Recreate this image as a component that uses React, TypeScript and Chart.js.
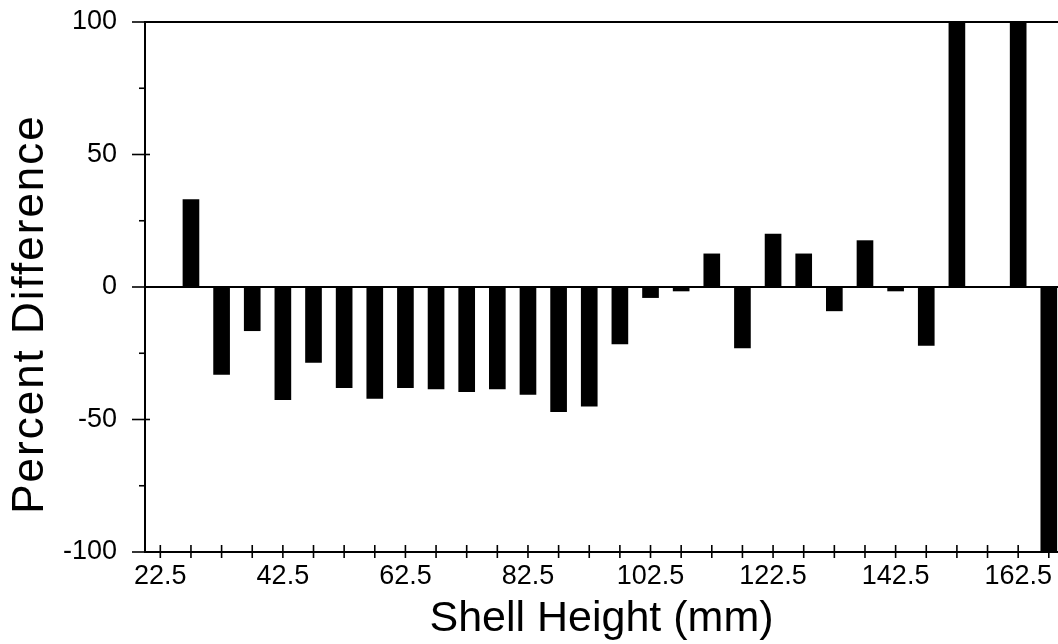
import React, { useEffect, useRef } from "react";
import { Chart, registerables } from "chart.js";

Chart.register(...registerables);

// Bin centres (mm) and percent differences
const shellHeights: number[] = [
  27.5, 32.5, 37.5, 42.5, 47.5, 52.5, 57.5, 62.5, 67.5, 72.5, 77.5, 82.5, 87.5, 92.5, 97.5,
  102.5, 107.5, 112.5, 117.5, 122.5, 127.5, 132.5, 137.5, 142.5, 147.5, 152.5, 157.5, 162.5, 167.5,
];
const percentDifference: (number | null)[] = [
  33, -33, -16.5, -42.5, -28.5, -38, -42, -38, -38.5, -39.5, -38.5, -40.5, -47, -45, -21.5,
  -4, -1.5, 12.5, -23, 20, 12.5, -9, 17.5, -1.5, -22, 100, null, 100, -100,
];
const xTickValues: number[] = [
  22.5, 27.5, 32.5, 37.5, 42.5, 47.5, 52.5, 57.5, 62.5, 67.5, 72.5, 77.5, 82.5, 87.5, 92.5,
  97.5, 102.5, 107.5, 112.5, 117.5, 122.5, 127.5, 132.5, 137.5, 142.5, 147.5, 152.5, 157.5,
  162.5, 167.5,
];
const xTickLabels: string[] = ["22.5", "42.5", "62.5", "82.5", "102.5", "122.5", "142.5", "162.5"];
const yTickLabels: string[] = ["100", "50", "0", "-50", "-100"];
const xTitle = "Shell Height (mm)";
const yTitle = "Percent Difference";
const X_MIN = 20;
const X_MAX = 169;

const FONT = '"Liberation Sans", Arial, Helvetica, sans-serif';

const framePlugin = {
  id: "frameTicks",
  afterDraw(chart: any) {
    const ctx = chart.ctx as CanvasRenderingContext2D;
    const xs = chart.scales.x;
    const ys = chart.scales.y;
    const left = chart.chartArea.left;
    const bottom = chart.chartArea.bottom;
    ctx.save();
    ctx.strokeStyle = "#000";
    ctx.lineWidth = 1.6;
    // y ticks (major every 50, minor every 25)
    for (let v = -100; v <= 100; v += 25) {
      const y = ys.getPixelForValue(v);
      const major = v % 50 === 0;
      ctx.beginPath();
      ctx.moveTo(left - (major ? 13 : 6), y);
      ctx.lineTo(left + (major ? 5 : 1), y);
      ctx.stroke();
    }
    // x ticks
    for (const v of xTickValues) {
      const x = xs.getPixelForValue(v);
      ctx.beginPath();
      ctx.moveTo(x, bottom - 7);
      ctx.lineTo(x, bottom + 6);
      ctx.stroke();
    }
    // y title
    ctx.fillStyle = "#000";
    ctx.font = `44px ${FONT}`;
    try {
      (ctx as any).letterSpacing = "2px";
    } catch (e) {}
    ctx.translate(43, 314);
    ctx.rotate(-Math.PI / 2);
    ctx.textAlign = "center";
    ctx.textBaseline = "alphabetic";
    ctx.fillText(yTitle, 0, 0);
    ctx.restore();
  },
};

export default function App() {
  const ref = useRef<HTMLCanvasElement | null>(null);

  useEffect(() => {
    if (!ref.current) return;
    const data = shellHeights.map((x, i) => ({ x, y: percentDifference[i] }));
    const chart = new Chart(ref.current, {
      type: "bar",
      data: {
        datasets: [
          {
            data: data as any,
            backgroundColor: "#000",
            borderWidth: 0,
            barThickness: 16,
          },
        ],
      },
      plugins: [framePlugin],
      options: {
        responsive: false,
        animation: false,
        devicePixelRatio: 1,
        layout: { padding: { top: 22, left: 0, right: 0, bottom: 0 } },
        plugins: { legend: { display: false }, tooltip: { enabled: false } },
        scales: {
          x: {
            type: "linear",
            min: X_MIN,
            max: X_MAX,
            offset: false,
            afterFit: (s: any) => {
              s.height = 92;
            },
            afterBuildTicks: (s: any) => {
              s.ticks = [X_MIN, ...xTickValues, X_MAX].map((v) => ({ value: v }));
            },
            ticks: {
              autoSkip: false,
              maxRotation: 0,
              minRotation: 0,
              padding: 0,
              color: "#000",
              font: { family: FONT, size: 27 },
              callback: (v: any) => {
                const s = String(v);
                return xTickLabels.includes(s) ? s : "";
              },
            },
            grid: {
              display: true,
              offset: false,
              drawOnChartArea: false,
              drawTicks: true,
              tickLength: 8,
              color: "rgba(0,0,0,0)",
              tickColor: "rgba(0,0,0,0)",
            },
            border: { display: true, color: "#000", width: 2 },
            title: {
              display: true,
              text: xTitle,
              color: "#000",
              font: { family: FONT, size: 43, lineHeight: 1.15 },
              padding: { top: 0, bottom: 0 },
            },
          },
          y: {
            type: "linear",
            min: -100,
            max: 100,
            afterFit: (s: any) => {
              s.width = 145;
            },
            ticks: {
              stepSize: 25,
              padding: 0,
              color: "#000",
              font: { family: FONT, size: 27 },
              callback: (v: any) => {
                const s = String(v);
                return yTickLabels.includes(s) ? s : "";
              },
            },
            grid: {
              display: true,
              drawOnChartArea: true,
              drawTicks: true,
              tickLength: 28,
              tickColor: "rgba(0,0,0,0)",
              lineWidth: 2,
              color: (c: any) =>
                c.tick && (c.tick.value === 0 || c.tick.value === 100) ? "#000" : "rgba(0,0,0,0)",
            },
            border: { display: true, color: "#000", width: 2 },
          },
        },
      },
    });
    return () => chart.destroy();
  }, []);

  return (
    <div style={{ position: "absolute", left: 0, top: 0, width: 1058, height: 644, background: "#fff" }}>
      <canvas ref={ref} width={1058} height={644} style={{ display: "block", width: 1058, height: 644 }} />
    </div>
  );
}
